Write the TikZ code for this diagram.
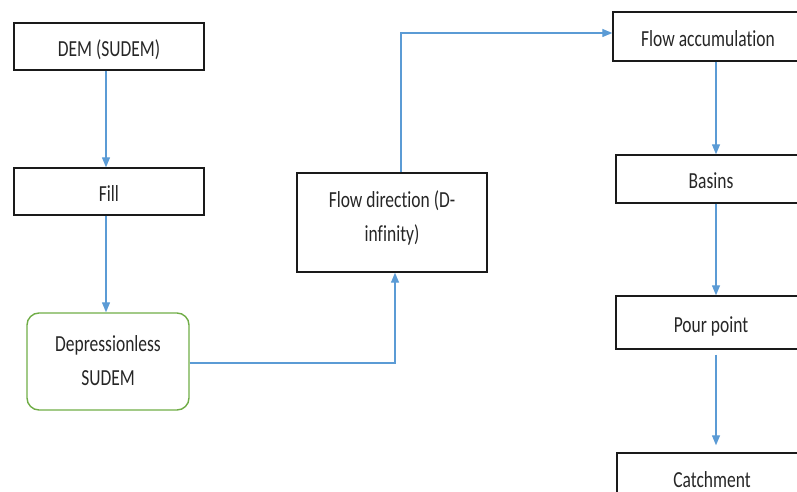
\documentclass[tikz,border=0pt]{standalone}
\usepackage{fontspec}
\setmainfont{Carlito}[Ligatures=NoCommon]
\usepackage{graphicx}
\usetikzlibrary{arrows.meta,calc}

% narrow-set label text; optional argument moves the text down by that amount
\newcommand{\lbl}[2][3pt]{\raisebox{-#1}[\height][\depth]{\scalebox{0.76}[1]{\fontsize{23}{34}\selectfont\begin{tabular}{@{}c@{}}#2\end{tabular}}}}

\definecolor{flowblue}{HTML}{5B9BD5}
\definecolor{boxgreen}{HTML}{70AD47}
\definecolor{boxline}{HTML}{1A1A1A}

\tikzset{
  procbox/.style={draw=boxline, line width=1.4pt, rectangle, inner sep=0pt, align=center, text=black!85},
  resultbox/.style={draw=boxgreen, line width=1.4pt, rectangle, rounded corners=12pt, inner sep=0pt, align=center, text=black!85},
  flow/.style={draw=flowblue, line width=1.3pt, -{Triangle[width=8pt,length=10pt]}}
}

\begin{document}
\begin{tikzpicture}[x=1pt,y=-1pt]
\useasboundingbox (0,0) rectangle (797,492);
\clip (0,0) rectangle (797,492);

% left column
\node[procbox, minimum width=190pt, minimum height=47pt] (dem) at (109,46.5) {\lbl{DEM (SUDEM)}};
\node[procbox, minimum width=190pt, minimum height=47pt] (fill) at (109,191.5) {\lbl{Fill}};
\node[resultbox, minimum width=162pt, minimum height=97pt] (dep) at (108,361.5) {\lbl[0pt]{Depressionless\\SUDEM}};

% middle
\node[procbox, minimum width=190pt, minimum height=99pt] (fdir) at (392,222.5) {\lbl[-5pt]{Flow direction (D-\\infinity)}};

% right column
\node[procbox, minimum width=190pt, minimum height=49pt] (facc) at (708,36.5) {\lbl{Flow accumulation}};
\node[procbox, minimum width=190pt, minimum height=48pt] (basins) at (711,179) {\lbl{Basins}};
\node[procbox, minimum width=190pt, minimum height=53pt] (pour) at (711,322.5) {\lbl{Pour point}};
\node[procbox, minimum width=190pt, minimum height=50pt] (catch) at (712,478) {\lbl{Catchment}};

% connectors
\draw[flow] ([xshift=-3pt]dem.south) -- ([xshift=-3pt]fill.north);
\draw[flow] ([xshift=-3pt]fill.south) -- ([xshift=-2pt]dep.north);
\draw[flow] ([yshift=-1.5pt]dep.east) -| ([xshift=3pt]fdir.south);
\draw[flow] ([xshift=9pt]fdir.north) |- ([yshift=3.5pt]facc.west);
\draw[flow] ([xshift=8pt]facc.south) -- ([xshift=5pt]basins.north);
\draw[flow] ([xshift=5pt]basins.south) -- ([xshift=5pt]pour.north);
\draw[flow] ([xshift=5pt,yshift=-5pt]pour.south) -- ([xshift=4pt,yshift=7pt]catch.north);
\end{tikzpicture}
\end{document}
